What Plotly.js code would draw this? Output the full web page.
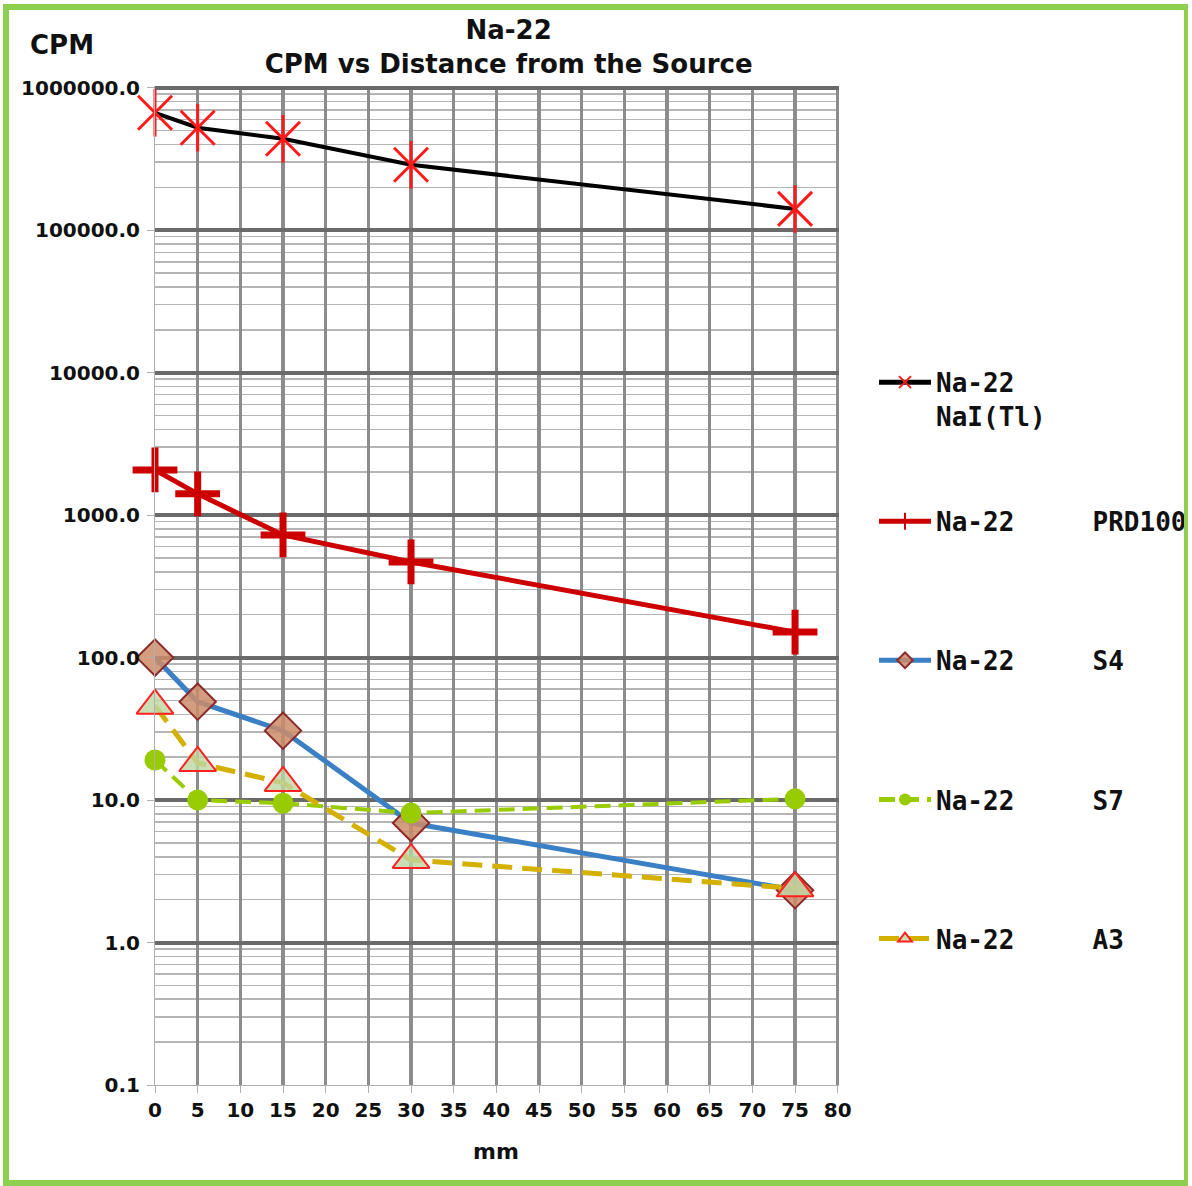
<!DOCTYPE html>
<html><head><meta charset="utf-8">
<script src="https://cdn.plot.ly/plotly-3.0.1.min.js"></script>
<style>
html,body{margin:0;padding:0;background:#fff;}
#wrap{position:relative;width:1192px;height:1186px;}
#chart{width:1192px;height:1186px;}
#frame{position:absolute;left:3px;top:4px;width:1185px;height:1182px;box-sizing:border-box;border:6px solid #8dd04f;border-right-width:4px;pointer-events:none;}
</style>
</head><body><div id="wrap"><div id="chart"></div><div id="frame"></div></div>
<script>
const distances = [0, 5, 15, 30, 75];
const naiTl  = [667000, 524000, 438000, 288000, 141000];
const prd100 = [2075, 1410, 726, 469, 151];
const s4     = [100, 49, 30.7, 6.9, 2.33];
const s7     = [19.1, 10, 9.5, 8.1, 10.2];
const a3     = [46, 18.2, 13.2, 3.8, 2.4];
const xTickVals = [0,5,10,15,20,25,30,35,40,45,50,55,60,65,70,75,80];
const yTickVals = [0.1, 1, 10, 100, 1000, 10000, 100000, 1000000];
const yTickText = ['0.1','1.0','10.0','100.0','1000.0','10000.0','100000.0','1000000.0'];
const NB = '\u00a0';
const names = [
  'Na-22<br>NaI(Tl)',
  'Na-22' + NB.repeat(5) + 'PRD100<br>' + NB,
  'Na-22' + NB.repeat(5) + 'S4<br>' + NB,
  'Na-22' + NB.repeat(5) + 'S7<br>' + NB,
  'Na-22' + NB.repeat(5) + 'A3<br>' + NB
];

const traces = [
  {x: distances, y: naiTl, name: names[0], mode: 'lines+markers', legendgroup: 'g1', cliponaxis: false,
   line: {color: '#000', width: 4},
   marker: {symbol: 'x-thin-open', size: 34, color: '#ff1a1a', line: {color: '#ff1a1a', width: 3}}},
  {x: distances, y: naiTl, mode: 'markers', showlegend: false, legendgroup: 'g1', hoverinfo: 'skip', cliponaxis: false,
   marker: {symbol: 'line-ns-open', size: 34, color: '#ff1a1a', line: {color: '#ff1a1a', width: 3}}},
  {x: distances, y: prd100, name: names[1], mode: 'lines+markers', legendgroup: 'g2', cliponaxis: false,
   line: {color: '#cc0000', width: 5},
   marker: {symbol: 'cross-thin-open', size: 32, color: '#cc0000', line: {color: '#cc0000', width: 7}}},
  {x: distances, y: s4, name: names[2], mode: 'lines+markers', legendgroup: 'g3', cliponaxis: false,
   line: {color: '#3b7fc4', width: 5},
   marker: {symbol: 'diamond', size: 28, color: 'rgba(205,140,105,0.85)', line: {color: '#8b2a2a', width: 2}}},
  {x: distances, y: s7, name: names[3], mode: 'lines+markers', legendgroup: 'g4', cliponaxis: false,
   line: {color: '#99cc00', width: 4, dash: '16px,8px'},
   marker: {symbol: 'circle', size: 21, color: '#99cc00'}},
  {x: distances, y: a3, name: names[4], mode: 'lines+markers', legendgroup: 'g5', cliponaxis: false,
   line: {color: '#d4b000', width: 5, dash: '20px,10px'},
   marker: {symbol: 'triangle-up', size: 32, color: 'rgba(190,215,165,0.8)', line: {color: '#ff2020', width: 2}}}
];

const tickFont = {family: 'DejaVu Sans', size: 20, color: '#111', weight: 'bold'};

const layout = {
  width: 1192, height: 1186,
  margin: {l: 155, r: 353, t: 86, b: 101, autoexpand: false},
  paper_bgcolor: '#fff', plot_bgcolor: '#fff',
  showlegend: true,
  title: {text: 'Na-22<br>CPM vs Distance from the Source', font: {family: 'DejaVu Sans', size: 26, color: '#111', weight: 'bold'},
          x: 0.517, xref: 'paper', xanchor: 'center', yref: 'container', y: 0.967, yanchor: 'middle'},
  xaxis: {range: [0, 80.15], tickvals: xTickVals, ticktext: xTickVals.map(String),
          showgrid: true, gridcolor: '#8c8c8c', gridwidth: 3.5,
          zeroline: false, showline: true, linecolor: '#b0b0b0', linewidth: 1,
          ticks: 'outside', ticklen: 7, tickcolor: '#b0b0b0', tickfont: tickFont},
  yaxis: {type: 'log', range: [-1, 6.012], tickvals: yTickVals, ticktext: yTickText,
          showgrid: true, gridcolor: '#6a6a6a', gridwidth: 4,
          zeroline: false, showline: true, linecolor: '#b0b0b0', linewidth: 1,
          ticks: 'outside', ticklen: 7, tickcolor: '#b0b0b0', tickfont: tickFont, ticklabelstandoff: 3,
          minor: {dtick: 'D1', showgrid: true, gridcolor: '#b5b5b5', gridwidth: 1.5}},
  legend: {x: 1.0512, xanchor: 'left', y: 0.727, yanchor: 'top', traceorder: 'grouped',
           tracegroupgap: 68.5, valign: 'top', itemsizing: 'constant', itemwidth: 52, bgcolor: 'rgba(0,0,0,0)',
           font: {family: 'DejaVu Sans Mono', size: 26, color: '#111', weight: 'bold'}},
  annotations: [
    {text: 'CPM', xref: 'paper', yref: 'paper', x: -0.136, y: 1.041, xanchor: 'center', yanchor: 'middle',
     showarrow: false, font: {family: 'DejaVu Sans', size: 26, color: '#111', weight: 'bold'}},
    {text: 'mm', xref: 'paper', yref: 'paper', x: 0.499, y: -0.067, xanchor: 'center', yanchor: 'middle',
     showarrow: false, font: {family: 'DejaVu Sans', size: 22, color: '#111', weight: 'bold'}}
  ]
};

Plotly.newPlot('chart', traces, layout, {displayModeBar: false, staticPlot: true});
</script>
</body></html>
